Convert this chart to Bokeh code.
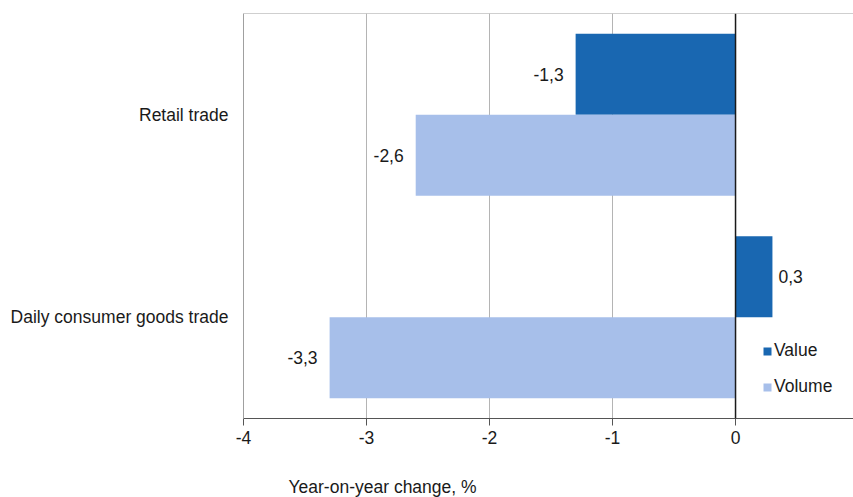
from bokeh.plotting import figure
from bokeh.layouts import column
from bokeh.models import (ColumnDataSource, FactorRange, Range1d, Legend, LegendItem,
                          Span, FixedTicker)
from bokeh.transform import dodge
from bokeh.embed import file_html
from bokeh.resources import INLINE
from bokeh.core.properties import value

categories = ["Retail trade", "Daily consumer goods trade"]
value_change = [-1.3, 0.3]
volume_change = [-2.6, -3.3]
x_ticks = [-4, -3, -2, -1, 0, 1]
x_title = "Year-on-year change, %"

FONT = "Liberation Sans"
FS = "17.5px"
VALUE_COLOR = "#1967b1"
VOLUME_COLOR = "#a7bfea"
TXT = "#1a1a1a"

p = figure(width=853, height=474, output_backend="svg", toolbar_location=None,
           y_range=FactorRange(factors=list(reversed(categories)), range_padding=0),
           x_range=Range1d(-4, 0.959),
           min_border_left=243, min_border_right=0, min_border_top=13, min_border_bottom=56)

src_val = ColumnDataSource(dict(cat=categories, x=value_change))
src_vol = ColumnDataSource(dict(cat=categories, x=volume_change))

r_val = p.hbar(y=dodge("cat", 0.2, range=p.y_range), right="x", left=0, height=0.4,
               source=src_val, fill_color=VALUE_COLOR, line_color=None)
r_vol = p.hbar(y=dodge("cat", -0.2, range=p.y_range), right="x", left=0, height=0.4,
               source=src_vol, fill_color=VOLUME_COLOR, line_color=None)

def fmt(v):
    return f"{v:.1f}".replace(".", ",")

for vals, off in ((value_change, 0.2), (volume_change, -0.2)):
    neg = [(c, v) for c, v in zip(categories, vals) if v < 0]
    pos = [(c, v) for c, v in zip(categories, vals) if v >= 0]
    if neg:
        s = ColumnDataSource(dict(cat=[c for c, _ in neg], x=[v for _, v in neg],
                                  t=[fmt(v) for _, v in neg]))
        p.text(x="x", y=dodge("cat", off, range=p.y_range), text="t", source=s,
               text_align="right", text_baseline="middle", x_offset=-12,
               text_font=value(FONT), text_font_size=FS, text_color=TXT)
    if pos:
        s = ColumnDataSource(dict(cat=[c for c, _ in pos], x=[v for _, v in pos],
                                  t=[fmt(v) for _, v in pos]))
        p.text(x="x", y=dodge("cat", off, range=p.y_range), text="t", source=s,
               text_align="left", text_baseline="middle", x_offset=6,
               text_font=value(FONT), text_font_size=FS, text_color=TXT)

# zero line and top border
p.add_layout(Span(location=0, dimension="height", line_color=TXT, line_width=1.5))
p.add_layout(Span(location=2, dimension="width", line_color="#a0a0a0", line_width=1))
p.outline_line_color = None

# grids
p.ygrid.grid_line_color = None
p.xgrid.grid_line_color = "#b4b4b4"
p.xgrid.ticker = FixedTicker(ticks=x_ticks)

# x axis
p.xaxis.ticker = FixedTicker(ticks=x_ticks)
p.xaxis.major_label_overrides = {t: str(t) for t in x_ticks}
p.xaxis.axis_line_color = "#555555"
p.xaxis.major_tick_line_color = "#555555"
p.xaxis.major_tick_out = 7
p.xaxis.major_tick_in = 0
p.xaxis.minor_tick_line_color = None
p.xaxis.major_label_standoff = 5
p.xaxis.major_label_text_font = FONT
p.xaxis.major_label_text_font_size = FS
p.xaxis.major_label_text_color = TXT

# y axis
p.yaxis.axis_line_color = "#a0a0a0"
p.yaxis.major_tick_line_color = None
p.yaxis.minor_tick_line_color = None
p.yaxis.major_label_standoff = 9
p.yaxis.major_label_text_font = FONT
p.yaxis.major_label_text_font_size = FS
p.yaxis.major_label_text_color = TXT

legend = Legend(items=[LegendItem(label="Value", renderers=[r_val]),
                       LegendItem(label="Volume", renderers=[r_vol])],
                location=(519, 21), orientation="vertical",
                glyph_width=10, glyph_height=10, label_height=20, spacing=15,
                label_standoff=2, padding=0, margin=0,
                background_fill_alpha=0, border_line_color=None,
                label_text_font=FONT, label_text_font_size=FS, label_text_color=TXT)
p.add_layout(legend)

# strip below holding the axis title (left-aligned under the axis, frame aligned with p)
t = figure(width=853, height=23, output_backend="svg", toolbar_location=None,
           x_range=Range1d(0, 1), y_range=Range1d(0, 1),
           min_border_left=243, min_border_right=0, min_border_top=0, min_border_bottom=0,
           x_axis_type=None, y_axis_type=None)
t.outline_line_color = None
t.grid.visible = False
t.text(x=[0], y=[0.45], text=[x_title], text_align="left", text_baseline="middle",
       x_offset=45, text_font=value(FONT), text_font_size=FS, text_color=TXT)

layout = column(p, t, spacing=0)
open("out.html", "w").write(file_html(layout, INLINE))
